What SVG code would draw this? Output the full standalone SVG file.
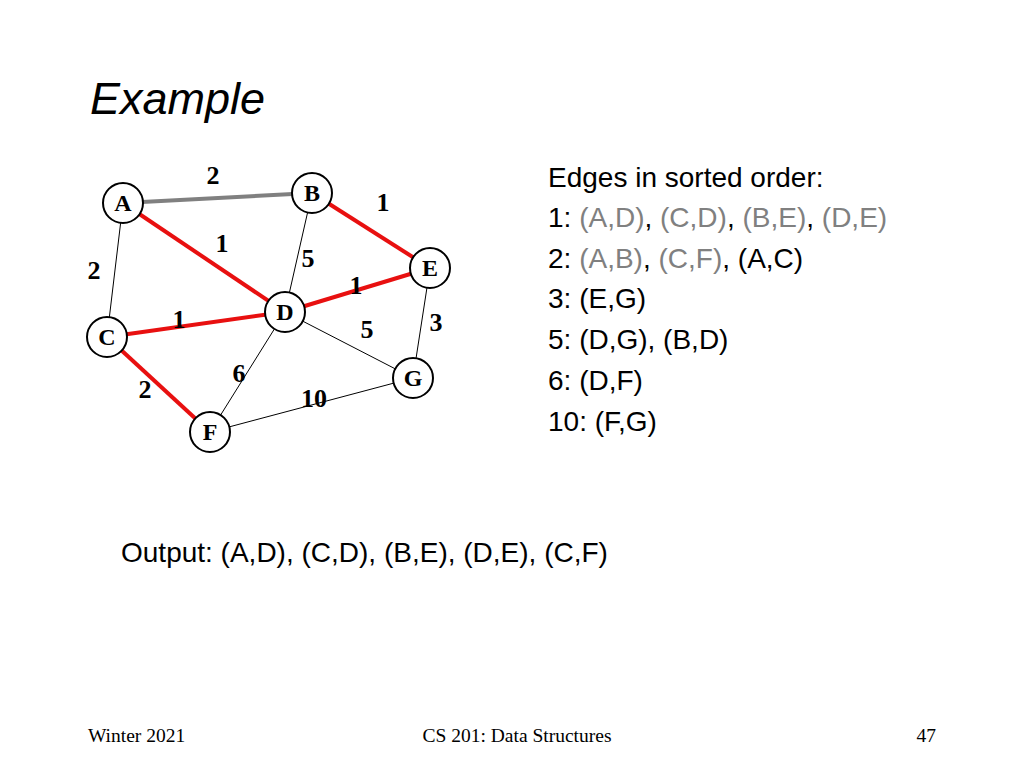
<svg xmlns="http://www.w3.org/2000/svg" width="1024" height="768" viewBox="0 0 1024 768">
<style>
.n{fill:#fff;stroke:#000;stroke-width:2}
.nl{font-family:"Liberation Serif",serif;font-weight:bold;font-size:24px;text-anchor:middle}
.w{font-family:"Liberation Serif",serif;font-weight:bold;font-size:26px;text-anchor:middle}
.t{font-family:"Liberation Sans",sans-serif;font-size:28px}
.g{fill:#808080}
.thin{stroke:#000;stroke-width:1}
.red{stroke:#e81010;stroke-width:4}
.ft{font-family:"Liberation Serif",serif;font-size:19.5px}
</style>
<rect width="1024" height="768" fill="#fff"/>
<text x="90" y="114" font-family="Liberation Sans,sans-serif" font-style="italic" font-size="45">Example</text>
<g id="connectors">
<line x1="123" y1="203" x2="312" y2="193" stroke="#808080" stroke-width="4"/>
<line class="red" x1="123" y1="203" x2="285" y2="312"/>
<line class="thin" x1="123" y1="203" x2="107" y2="337"/>
<line class="red" x1="312" y1="193" x2="430" y2="268"/>
<line class="thin" x1="312" y1="193" x2="285" y2="312"/>
<line class="red" x1="285" y1="312" x2="430" y2="268"/>
<line class="red" x1="107" y1="337" x2="285" y2="312"/>
<line class="thin" x1="430" y1="268" x2="413" y2="378"/>
<line class="thin" x1="285" y1="312" x2="413" y2="378"/>
<line class="thin" x1="285" y1="312" x2="210" y2="432"/>
<line class="red" x1="107" y1="337" x2="210" y2="432"/>
<line class="thin" x1="210" y1="432" x2="413" y2="378"/>
</g>
<g id="weights">
<text class="w" x="213" y="184">2</text>
<text class="w" x="383" y="211">1</text>
<text class="w" x="222" y="252">1</text>
<text class="w" x="308" y="267">5</text>
<text class="w" x="94" y="279">2</text>
<text class="w" x="356" y="294">1</text>
<text class="w" x="179" y="328">1</text>
<text class="w" x="367" y="338">5</text>
<text class="w" x="436" y="331">3</text>
<text class="w" x="239" y="382">6</text>
<text class="w" x="145" y="398">2</text>
<text class="w" x="314" y="407">10</text>
</g>
<g id="A"><circle class="n" cx="123" cy="203" r="20"/><text class="nl" x="123" y="211">A</text></g>
<g id="B"><circle class="n" cx="312" cy="193" r="20"/><text class="nl" x="312" y="201">B</text></g>
<g id="E"><circle class="n" cx="430" cy="268" r="20"/><text class="nl" x="430" y="276">E</text></g>
<g id="D"><circle class="n" cx="285" cy="312" r="20"/><text class="nl" x="285" y="320">D</text></g>
<g id="C"><circle class="n" cx="107" cy="337" r="20"/><text class="nl" x="107" y="345">C</text></g>
<g id="G"><circle class="n" cx="413" cy="378" r="20"/><text class="nl" x="413" y="386">G</text></g>
<g id="F"><circle class="n" cx="210" cy="432" r="20"/><text class="nl" x="210" y="440">F</text></g>
<g class="t" xml:space="preserve">
<text x="548" y="187">Edges in sorted order:</text>
<text x="548" y="227">1:  <tspan class="g">(A,D)</tspan>, <tspan class="g">(C,D)</tspan>, <tspan class="g">(B,E)</tspan>, <tspan class="g">(D,E)</tspan></text>
<text x="548" y="268">2:  <tspan class="g">(A,B)</tspan>, <tspan class="g">(C,F)</tspan>, (A,C)</text>
<text x="548" y="308">3:  (E,G)</text>
<text x="548" y="349">5:  (D,G), (B,D)</text>
<text x="548" y="390">6:  (D,F)</text>
<text x="548" y="431">10: (F,G)</text>
<text x="121" y="562">Output: (A,D), (C,D), (B,E), (D,E), (C,F)</text>
</g>
<text class="ft" x="88" y="742">Winter 2021</text>
<text class="ft" x="517" y="742" text-anchor="middle">CS 201: Data Structures</text>
<text class="ft" x="936" y="742" text-anchor="end">47</text>
</svg>
